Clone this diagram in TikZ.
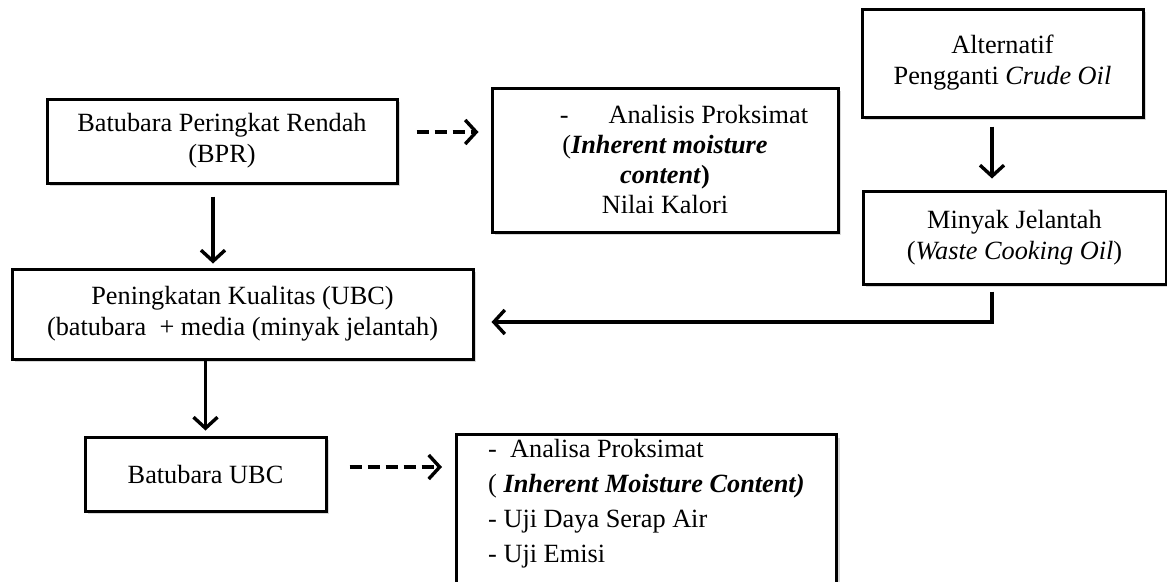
\documentclass[tikz,border=0pt]{standalone}
\usepackage{fontspec}
\setmainfont{Liberation Serif}
\usetikzlibrary{arrows.meta,shadows,calc}
\begin{document}
\begin{tikzpicture}[x=1pt,y=-1pt,
  box/.style={draw=black, line width=3pt, fill=white, align=center, inner sep=0pt,
    font=\fontsize{26.3}{31}\selectfont,
    drop shadow={shadow xshift=3pt, shadow yshift=-3pt, opacity=0.25, fill=black!60}},
  arr/.style={line width=3.4pt, -{Straight Barb[length=11pt,width=24pt]}},
  darr/.style={arr, dash pattern=on 12pt off 6pt}]
\fill[white] (0,0) rectangle (1167,581);
\useasboundingbox (0,0) rectangle (1167,581);

\node[box, minimum width=281pt, minimum height=108pt] (alt) at (1002.5,63)
  {Alternatif\\Pengganti \textit{Crude Oil}};
\node[box, minimum width=350pt, minimum height=84pt] (bpr) at (222,141)
  {Batubara Peringkat Rendah\\(BPR)};
\node[box, minimum width=346pt, minimum height=144pt, font=\fontsize{26.3}{30}\selectfont] (ana) at (665,160)
  {\hspace*{38pt}-\hspace{40pt}Analisis Proksimat\\(\textbf{\textit{Inherent moisture}}\\\textbf{\textit{content})}\\Nilai Kalori};
\node[box, minimum width=303pt, minimum height=93pt] (min) at (1014.5,237.5)
  {Minyak Jelantah\\(\textit{Waste Cooking Oil})};
\node[box, minimum width=461pt, minimum height=90pt] (ubc) at (242.5,314)
  {Peningkatan Kualitas (UBC)\\(batubara\ \ + media (minyak jelantah)};
\node[box, minimum width=241pt, minimum height=74pt] (bubc) at (205.5,474)
  {Batubara UBC};
\node[box, minimum width=380pt, minimum height=180pt, anchor=north west] (last) at (455,433) {};
\node[anchor=north west, align=left, inner sep=0pt, font=\fontsize{26.3}{35}\selectfont] (lasttxt)
  at ($(last.north west)+(33,6)$)
  {-\ \ Analisa Proksimat\\( \textbf{\textit{Inherent Moisture Content)}}\\- Uji Daya Serap Air\\- Uji Emisi};

% connectors
\coordinate (a1) at ($(bpr.south)+(-9,12)$);
\draw[arr, shorten >=4pt] (a1) -- (a1 |- ubc.north);

\coordinate (a2) at (bubc.north |- ubc.south);
\draw[arr, shorten >=5pt] (a2) -- (bubc.north);

\coordinate (d1) at ($(bpr.east)+(18,-9)$);
\draw[darr, shorten >=12pt] (d1) -- (d1 -| ana.west);

\coordinate (a4) at ($(alt.south)+(-10.5,8)$);
\draw[arr, shorten >=11pt] (a4) -- (a4 |- min.north);

\coordinate (a5) at ($(min.south)+(-22.5,6)$);
\coordinate (a5b) at ($(ubc.east)+(0,8)$);
\draw[arr, shorten >=17pt] (a5) |- (a5b);

\coordinate (d2) at ($(bubc.east)+(22,-7)$);
\draw[darr, shorten >=13pt] (d2) -- (d2 -| last.west);
\end{tikzpicture}
\end{document}
